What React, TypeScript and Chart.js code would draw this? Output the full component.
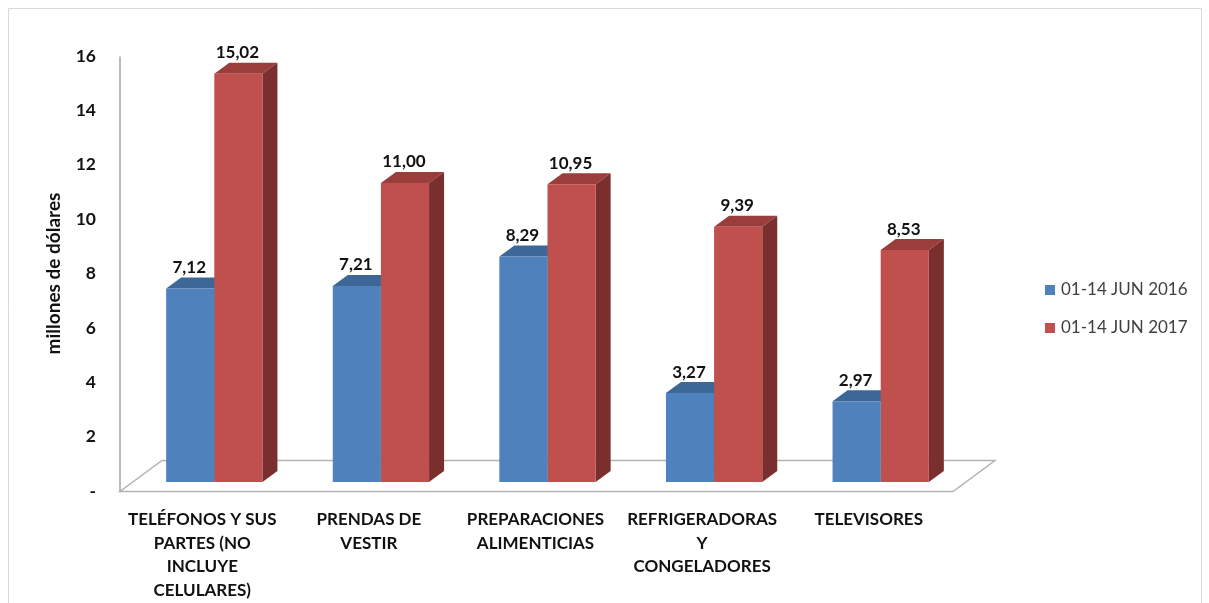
import React, { useEffect, useRef } from "react";
import { Chart, registerables } from "chart.js";

Chart.register(...registerables);

const categories: string[][] = [
  ["TELÉFONOS Y SUS", "PARTES (NO", "INCLUYE", "CELULARES)"],
  ["PRENDAS DE", "VESTIR"],
  ["PREPARACIONES", "ALIMENTICIAS"],
  ["REFRIGERADORAS", "Y", "CONGELADORES"],
  ["TELEVISORES"],
];
const seriesLabels = ["01-14 JUN 2016", "01-14 JUN 2017"];
const values2016 = [7.12, 7.21, 8.29, 3.27, 2.97];
const values2017 = [15.02, 11.0, 10.95, 9.39, 8.53];
const yTicks = [0, 2, 4, 6, 8, 10, 12, 14, 16];
const yTitle = "millones de dólares";

const FONT = "Lato, 'Open Sans', sans-serif";
const FRONT = ["#4F81BD", "#C0504D"];
const TOP = ["#3D6797", "#9A3D3B"];
const SIDE = ["#345882", "#7A2F2E"];

// 3D geometry (pixels)
const BAR_DX = 15;
const BAR_DY = -11;
const FRONT_DX = -11; // floor front edge relative to bar plane
const FRONT_DY = 9.5;
const FLOOR_DX = 42;
const FLOOR_DY = -31;

const threeD = {
  id: "threeD",
  beforeDatasetsDraw(chart: any) {
    const ctx = chart.ctx;
    const area = chart.chartArea;
    const y = chart.scales.y;
    ctx.save();
    // floor
    const fy = y.getPixelForValue(0) + FRONT_DY;
    const fl = area.left + FRONT_DX;
    const fr = area.right + FRONT_DX;
    ctx.strokeStyle = "#b3b3b3";
    ctx.lineWidth = 1.5;
    ctx.beginPath();
    ctx.moveTo(fl, fy);
    ctx.lineTo(fr, fy);
    ctx.lineTo(fr + FLOOR_DX, fy + FLOOR_DY);
    ctx.lineTo(fl + FLOOR_DX, fy + FLOOR_DY);
    ctx.closePath();
    ctx.stroke();
    // y axis line
    ctx.strokeStyle = "#a6a6a6";
    ctx.lineWidth = 1.5;
    ctx.beginPath();
    ctx.moveTo(fl, y.getPixelForValue(yTicks[yTicks.length - 1]) + FRONT_DY);
    ctx.lineTo(fl, fy);
    ctx.stroke();
    // bar tops and sides
    chart.data.datasets.forEach((ds: any, di: number) => {
      const meta = chart.getDatasetMeta(di);
      meta.data.forEach((bar: any) => {
        const p = bar.getProps(["x", "y", "base", "width"], true);
        const l = p.x - p.width / 2;
        const r = p.x + p.width / 2;
        const t = p.y;
        const b = p.base;
        ctx.fillStyle = TOP[di];
        ctx.beginPath();
        ctx.moveTo(l, t);
        ctx.lineTo(r, t);
        ctx.lineTo(r + BAR_DX, t + BAR_DY);
        ctx.lineTo(l + BAR_DX, t + BAR_DY);
        ctx.closePath();
        ctx.fill();
        ctx.fillStyle = SIDE[di];
        ctx.beginPath();
        ctx.moveTo(r, t);
        ctx.lineTo(r + BAR_DX, t + BAR_DY);
        ctx.lineTo(r + BAR_DX, b + BAR_DY);
        ctx.lineTo(r, b);
        ctx.closePath();
        ctx.fill();
      });
    });
    ctx.restore();
  },
  afterDatasetsDraw(chart: any) {
    const ctx = chart.ctx;
    ctx.save();
    ctx.font = `bold 17px ${FONT}`;
    ctx.fillStyle = "#111111";
    ctx.textAlign = "center";
    ctx.textBaseline = "middle";
    chart.data.datasets.forEach((ds: any, di: number) => {
      const meta = chart.getDatasetMeta(di);
      meta.data.forEach((bar: any, i: number) => {
        const p = bar.getProps(["x", "y"], true);
        const txt = Number(ds.data[i]).toFixed(2).replace(".", ",");
        ctx.fillText(txt, p.x - 1, p.y - 21);
      });
    });
    ctx.restore();
  },
  afterDraw(chart: any) {
    const ctx = chart.ctx;
    const y = chart.scales.y;
    ctx.save();
    // y title
    ctx.font = `bold 19px ${FONT}`;
    ctx.fillStyle = "#111111";
    ctx.textAlign = "center";
    ctx.textBaseline = "middle";
    ctx.translate(54, (y.top + y.bottom) / 2 + 9);
    ctx.rotate(-Math.PI / 2);
    ctx.fillText(yTitle, 0, 0);
    ctx.restore();
    // legend
    ctx.save();
    ctx.font = `17px ${FONT}`;
    ctx.textAlign = "left";
    ctx.textBaseline = "middle";
    chart.data.datasets.forEach((ds: any, di: number) => {
      const cy = 290 + di * 38;
      ctx.fillStyle = ds.backgroundColor;
      ctx.fillRect(1045, cy - 5, 10, 10);
      ctx.fillStyle = "#404040";
      ctx.fillText(ds.label, 1061, cy);
    });
    // frame
    ctx.strokeStyle = "#d9d9d9";
    ctx.lineWidth = 1;
    ctx.beginPath();
    ctx.moveTo(8.5, 620);
    ctx.lineTo(8.5, 8.5);
    ctx.lineTo(1201.5, 8.5);
    ctx.lineTo(1201.5, 620);
    ctx.stroke();
    ctx.restore();
  },
};

export default function App() {
  const ref = useRef<HTMLCanvasElement | null>(null);
  useEffect(() => {
    if (!ref.current) return;
    const chart = new Chart(ref.current, {
      type: "bar",
      data: {
        labels: categories,
        datasets: [
          { label: seriesLabels[0], data: values2016, backgroundColor: FRONT[0], borderWidth: 0 },
          { label: seriesLabels[1], data: values2017, backgroundColor: FRONT[1], borderWidth: 0 },
        ],
      },
      options: {
        animation: false,
        responsive: false,
        maintainAspectRatio: false,
        devicePixelRatio: 1,
        layout: { padding: { left: 0, right: 245, top: 47, bottom: 0 } },
        datasets: { bar: { categoryPercentage: 0.578, barPercentage: 1.0 } },
        plugins: { legend: { display: false }, tooltip: { enabled: false } },
        scales: {
          x: {
            grid: { display: false, drawTicks: false },
            border: { display: false },
            ticks: {
              autoSkip: false,
              maxRotation: 0,
              minRotation: 0,
              padding: 26,
              labelOffset: -12,
              color: "#111111",
              font: { family: FONT, size: 17, weight: "bold", lineHeight: 1.38 },
            },
            afterFit(scale: any) {
              scale.height = 603 - 482;
            },
          },
          y: {
            min: 0,
            max: 16,
            grid: { display: false, drawTicks: false },
            border: { display: false },
            afterBuildTicks(scale: any) {
              scale.ticks = yTicks.map((v) => ({ value: v }));
            },
            ticks: {
              padding: 35,
              labelOffset: 9,
              color: "#111111",
              font: { family: FONT, size: 17.5, weight: "bold" },
              callback: (v: any) => (Number(v) === 0 ? "-" : String(v)),
            },
            afterFit(scale: any) {
              scale.width = 131;
            },
          },
        },
      },
      plugins: [threeD],
    });
    return () => chart.destroy();
  }, []);
  return (
    <div style={{ position: "fixed", left: 0, top: 0, width: 1209, height: 603, background: "#fff" }}>
      <canvas ref={ref} width={1209} height={603} style={{ width: 1209, height: 603, display: "block" }} />
    </div>
  );
}
